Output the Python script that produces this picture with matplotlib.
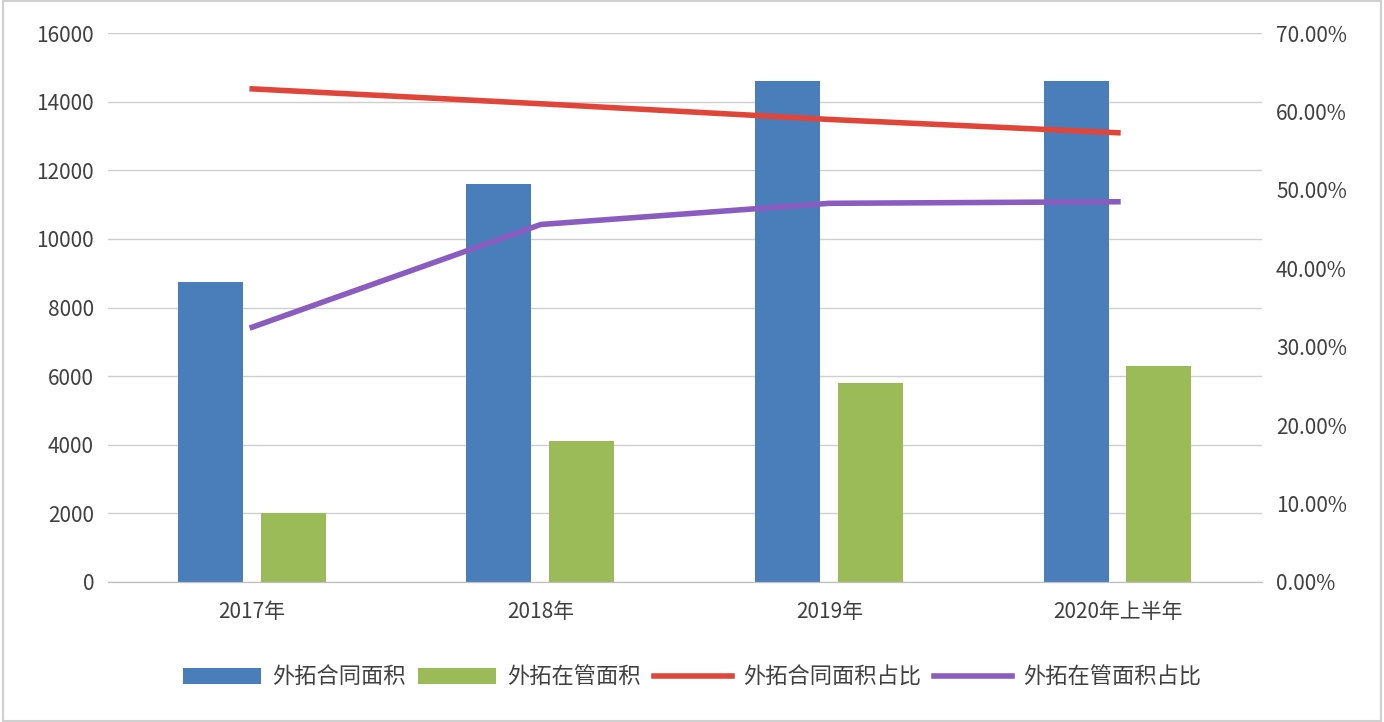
import matplotlib
matplotlib.use("Agg")
import matplotlib.pyplot as plt
import numpy as np
from matplotlib.ticker import FuncFormatter

plt.rcParams["font.family"] = ["Noto Sans CJK SC", "DejaVu Sans"]

categories = ["2017年", "2018年", "2019年", "2020年上半年"]
contract_area = [8750, 11600, 14600, 14600]
managed_area = [2000, 4100, 5800, 6300]
contract_ratio = [0.629, 0.610, 0.590, 0.573]
managed_ratio = [0.325, 0.456, 0.483, 0.485]

fig = plt.figure(figsize=(13.84, 7.22), dpi=100)
fig.patches.append(plt.Rectangle((0.002, 0.002), 0.996, 0.996, transform=fig.transFigure,
                                 fill=False, edgecolor="#d0d0d0", linewidth=1.5))
ax = fig.add_axes([0.078, 0.194, 0.834, 0.760])
ax2 = ax.twinx()

x = np.arange(len(categories))
w = 0.225
b1 = ax.bar(x - 0.145, contract_area, w, color="#4a7ebb", label="外拓合同面积")
b2 = ax.bar(x + 0.142, managed_area, w, color="#9bbb59", label="外拓在管面积")
l1, = ax2.plot(x, contract_ratio, color="#e0453a", lw=4, label="外拓合同面积占比")
l2, = ax2.plot(x, managed_ratio, color="#8a5cc0", lw=4, label="外拓在管面积占比")

ax.set_xlim(-0.5, 3.5)
ax.set_ylim(0, 16000)
ax.set_yticks(range(0, 16001, 2000))
ax2.set_ylim(0, 0.7)
ax2.set_yticks(np.arange(0, 0.71, 0.1))
ax2.yaxis.set_major_formatter(FuncFormatter(lambda v, p: f"{v*100:.2f}%"))
ax.set_xticks(x)
ax.set_xticklabels(categories)
ax.grid(axis="y", color="#cfcfcf", lw=1)
ax.set_axisbelow(True)
for a in (ax, ax2):
    for s in ("top", "left", "right"):
        a.spines[s].set_visible(False)
    a.spines["bottom"].set_color("#bfbfbf")
    a.tick_params(length=0, labelsize=15, colors="#404040", pad=10)
ax.tick_params(axis="x", pad=14)

fig.legend([b1, b2, l1, l2], [b1.get_label(), b2.get_label(), l1.get_label(), l2.get_label()],
           loc="center", bbox_to_anchor=(0.5, 0.062), ncol=4, frameon=False,
           fontsize=16, handlelength=3.5, columnspacing=0.6, handletextpad=0.5,
           labelcolor="#404040")
fig.savefig("out.png", dpi=100)
